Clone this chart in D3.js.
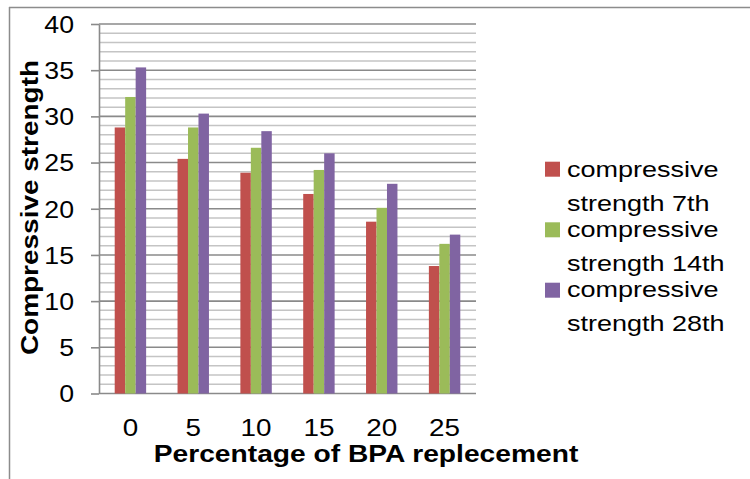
<!DOCTYPE html>
<html>
<head>
<meta charset="utf-8">
<script src="https://cdn.jsdelivr.net/npm/d3@7/dist/d3.min.js"></script>
<style>
  html, body { margin: 0; padding: 0; background: #fff; }
  svg { display: block; }
  text { font-family: "Liberation Sans", Arial, sans-serif; fill: #000; }
</style>
</head>
<body>
<svg id="chart" width="750" height="479"></svg>
<script>
// Replacement percentages (x categories)
const categories = ["0", "5", "10", "15", "20", "25"];

// Compressive strength at each curing age
const strength7th  = [28.8, 25.4, 23.9, 21.6, 18.6, 13.8];
const strength14th = [32.1, 28.8, 26.6, 24.2, 20.1, 16.2];
const strength28th = [35.3, 30.3, 28.4, 26.0, 22.7, 17.2];

const seriesNames = [
  ["compressive", "strength 7th"],
  ["compressive", "strength 14th"],
  ["compressive", "strength 28th"]
];
const seriesColors = ["#C0504D", "#9BBB59", "#8064A2"];
const yTickValues = [0, 5, 10, 15, 20, 25, 30, 35, 40];

const series = [strength7th, strength14th, strength28th];

const svg = d3.select("#chart");

// Chart frame (top and left edges)
svg.append("line").attr("x1", 9).attr("x2", 750).attr("y1", 7.5).attr("y2", 7.5)
  .attr("stroke", "#8c8c8c").attr("stroke-width", 1.5);
svg.append("line").attr("x1", 9.5).attr("x2", 9.5).attr("y1", 7).attr("y2", 479)
  .attr("stroke", "#8c8c8c").attr("stroke-width", 1.5);

const plot = { left: 99, right: 476, top: 24, bottom: 393.5 };

const y = d3.scaleLinear().domain([0, 40]).range([plot.bottom, plot.top]);
const x0 = d3.scaleBand().domain(categories).range([plot.left, plot.right])
  .paddingInner(0.5).paddingOuter(0.25);
const x1 = d3.scaleBand().domain(d3.range(series.length)).range([0, x0.bandwidth()]);

// Horizontal gridlines: minor every unit, major every 5
const grid = svg.append("g");
grid.selectAll("line")
  .data(d3.range(0, 41))
  .join("line")
  .attr("x1", plot.left).attr("x2", plot.right)
  .attr("y1", d => y(d)).attr("y2", d => y(d))
  .attr("stroke", d => d % 5 === 0 ? "#8a8a8a" : "#c4c4c4")
  .attr("stroke-width", d => d % 5 === 0 ? 1.6 : 1.5);

// Bars
const groups = svg.append("g").selectAll("g")
  .data(categories)
  .join("g")
  .attr("transform", d => `translate(${x0(d)},0)`);

groups.selectAll("rect")
  .data((d, i) => series.map((s, k) => ({ k, v: s[i] })))
  .join("rect")
  .attr("x", d => x1(d.k))
  .attr("width", x1.bandwidth())
  .attr("y", d => y(d.v))
  .attr("height", d => y(0) - y(d.v))
  .attr("fill", d => seriesColors[d.k]);

// Y axis
const sx = 1.16;
const yAxis = svg.append("g")
  .attr("transform", `translate(${plot.left},0)`)
  .call(d3.axisLeft(y).tickValues(yTickValues).tickSize(8).tickSizeOuter(0));
yAxis.select(".domain").attr("stroke", "#8a8a8a").attr("stroke-width", 1.6);
yAxis.selectAll(".tick line").attr("stroke", "#8a8a8a").attr("stroke-width", 1.6);
yAxis.selectAll(".tick text")
  .attr("x", -25 / sx)
  .attr("dy", "0.36em")
  .attr("transform", `scale(${sx},1)`)
  .style("font-size", "23px")
  .style("font-family", '"Liberation Sans", Arial, sans-serif')
  .attr("fill", "#000");

// X axis
const xAxis = svg.append("g")
  .attr("transform", `translate(0,${plot.bottom})`)
  .call(d3.axisBottom(x0).tickSize(0));
xAxis.select(".domain").remove();
xAxis.selectAll(".tick text")
  .attr("y", 43)
  .attr("dy", 0)
  .attr("transform", `scale(${sx},1)`)
  .style("font-size", "24px")
  .style("font-family", '"Liberation Sans", Arial, sans-serif')
  .attr("fill", "#000");
xAxis.selectAll(".tick text").attr("x", 0);

// Axis titles
svg.append("text")
  .attr("transform", `translate(366,461.5) scale(1.21,1)`)
  .attr("text-anchor", "middle")
  .style("font-size", "23.3px")
  .style("font-weight", "bold")
  .text("Percentage of BPA replecement");

svg.append("text")
  .attr("transform", `translate(37.5,207.5) rotate(-90) scale(1.165,1)`)
  .attr("text-anchor", "middle")
  .style("font-size", "24px")
  .style("font-weight", "bold")
  .text("Compressive strength");

// Legend
const legendTop = [161.7, 222.3, 282.7];
const legendBaselines = [[176.7, 210.7], [236.7, 270.7], [296.7, 330.5]];
const legend = svg.append("g");
seriesNames.forEach((lines, k) => {
  legend.append("rect")
    .attr("x", 545).attr("y", legendTop[k])
    .attr("width", 15).attr("height", 15)
    .attr("fill", seriesColors[k]);
  lines.forEach((t, j) => {
    legend.append("text")
      .attr("transform", `translate(567,${legendBaselines[k][j]}) scale(1.2,1)`)
      .style("font-size", "22.5px")
      .text(t);
  });
});
</script>
</body>
</html>
